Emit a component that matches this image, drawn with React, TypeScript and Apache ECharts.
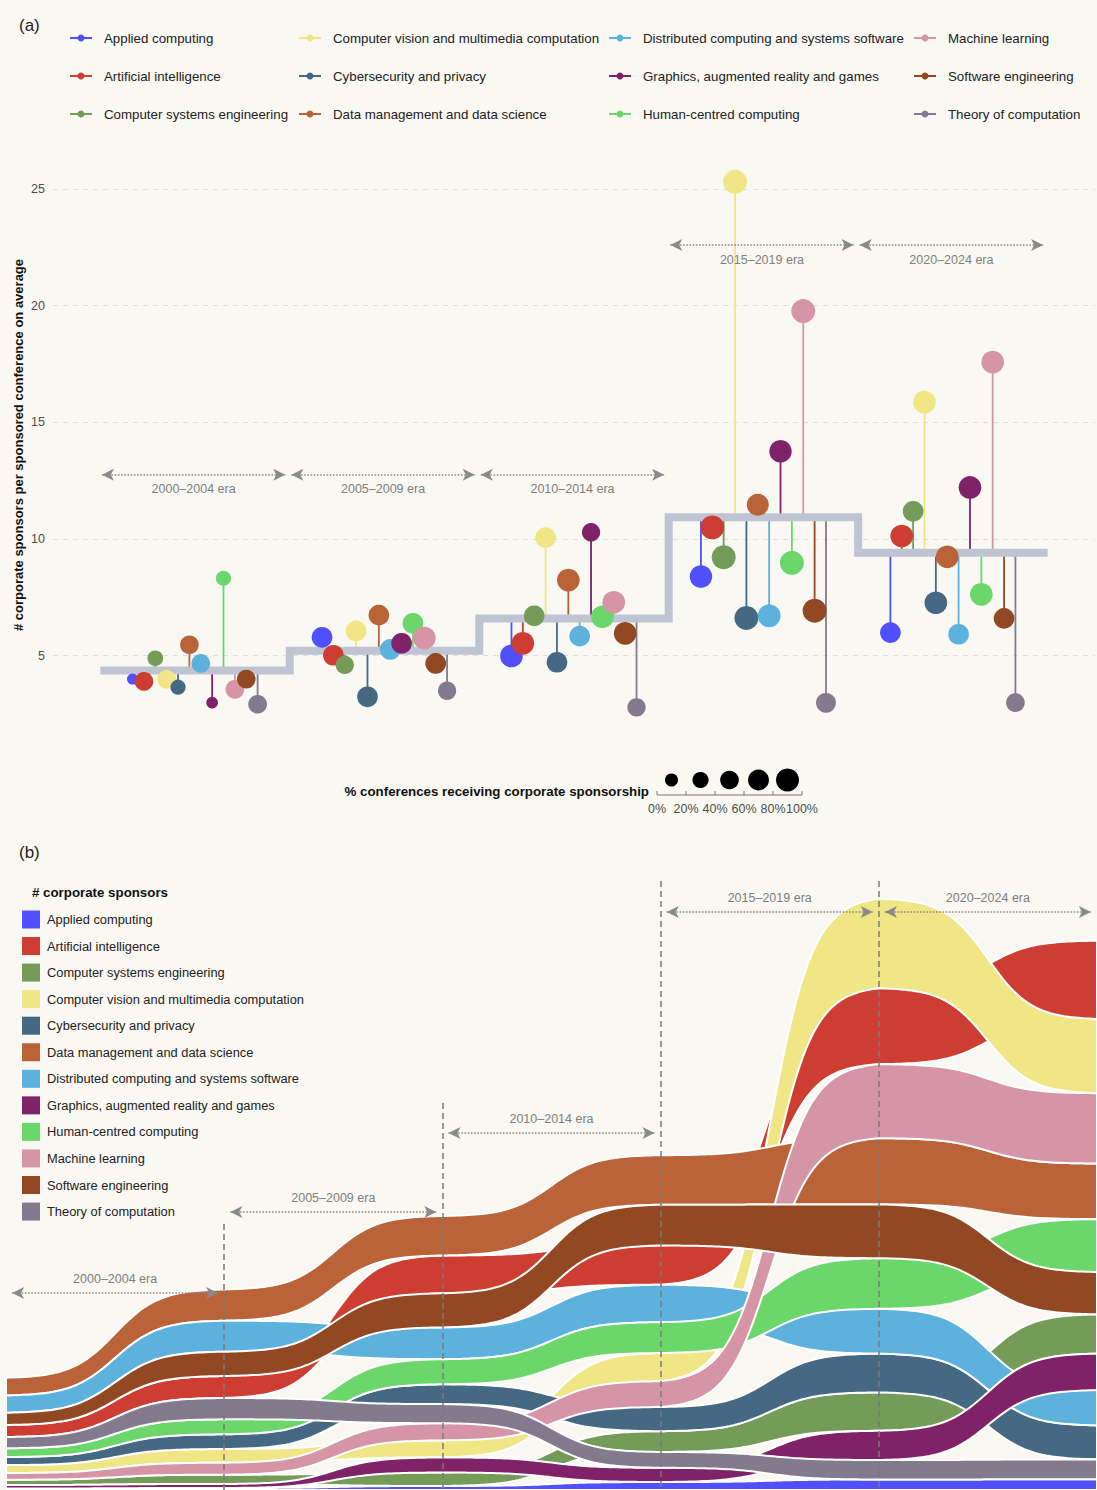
import React, { useEffect, useRef } from "react";
import * as echarts from "echarts";

// ---------- shared ----------
const categories = [
  "Applied computing",
  "Artificial intelligence",
  "Computer systems engineering",
  "Computer vision and multimedia computation",
  "Cybersecurity and privacy",
  "Data management and data science",
  "Distributed computing and systems software",
  "Graphics, augmented reality and games",
  "Human-centred computing",
  "Machine learning",
  "Software engineering",
  "Theory of computation",
];
const palette = [
  "#5050FF", "#CE3D32", "#749B58", "#F0E685", "#466983", "#BA6338",
  "#5DB1DD", "#802268", "#6BD76B", "#D595A7", "#924822", "#837B8D",
];
const eraLabels = ["2000–2004 era", "2005–2009 era", "2010–2014 era", "2015–2019 era", "2020–2024 era"];
const eraStarts = [2000, 2005, 2010, 2015, 2020];

// ---------- panel (a): average corporate sponsors per sponsored conference ----------
const eraAverage = [4.37, 5.21, 6.59, 10.93, 9.41];
const avg2000_2004 = [4.0, 3.9, 4.89, 3.99, 3.65, 5.47, 4.67, 2.99, 8.32, 3.56, 4.0, 2.92];
const avg2005_2009 = [5.79, 5.02, 4.61, 6.06, 3.24, 6.74, 5.27, 5.53, 6.39, 5.76, 4.67, 3.5];
const avg2010_2014 = [4.99, 5.53, 6.71, 10.06, 4.72, 8.24, 5.84, 10.29, 6.67, 7.29, 5.96, 2.79];
const avg2015_2019 = [8.39, 10.5, 9.22, 25.31, 6.62, 11.47, 6.71, 13.76, 8.98, 19.77, 6.93, 2.98];
const avg2020_2024 = [5.99, 10.13, 11.19, 15.87, 7.27, 9.24, 5.92, 12.21, 7.63, 17.58, 6.6, 2.99];

// % conferences receiving corporate sponsorship
const pct2000_2004 = [0, 50, 27, 50, 24, 50, 50, 3, 24, 50, 50, 50];
const pct2005_2009 = [68, 68, 47, 68, 68, 68, 68, 68, 68, 87, 68, 47];
const pct2010_2014 = [87, 87, 68, 68, 68, 87, 68, 47, 87, 87, 87, 47];
const pct2015_2019 = [85, 100, 100, 100, 100, 80, 89, 85, 100, 100, 100, 61];
const pct2020_2024 = [68, 87, 68, 87, 87, 87, 68, 87, 87, 87, 68, 50];

const sizeBreakLabels = ["0%", "20%", "40%", "60%", "80%", "100%"];
const sizeKeys = [10, 30, 50, 70, 90];
const yTicksA = [5, 10, 15, 20, 25];

// ---------- panel (b): # corporate sponsors (ranked stream) ----------
const knotYears = [2000, 2005, 2010, 2015, 2020, 2025];
const sponsors2000 = [1.5, 12.0, 5.3, 7.9, 8.1, 17.8, 17.2, 3.5, 8.7, 6.7, 12.3, 11.3];
const sponsors2005 = [2.0, 22.0, 9.3, 13.7, 14.7, 31.3, 31.0, 4.0, 15.0, 12.0, 24.3, 21.3];
const sponsors2010 = [4.0, 37.8, 13.5, 17.0, 19.8, 39.5, 31.8, 15.1, 25.1, 17.2, 34.1, 19.1];
const sponsors2015 = [8.0, 39.2, 20.8, 28.2, 24.2, 49.5, 37.5, 14.2, 30.8, 25.8, 40.8, 15.8];
const sponsors2020 = [10.5, 76.0, 38.4, 89.5, 38.8, 66.2, 44.8, 29.2, 50.6, 74.0, 53.8, 19.5];
const sponsors2025 = [10.8, 78.2, 39.3, 74.3, 34.0, 55.6, 35.3, 36.5, 52.9, 70.3, 42.3, 19.8];

const FONT = '"Liberation Sans", Arial, Helvetica, sans-serif';
const BG = "#F9F8F3";

function dotSize(pct: number) {
  return Math.sqrt(124 + 4.5 * pct);
}
function lollipopX(era: number, c: number) {
  return eraStarts[era] + 2.5 + (c - 5.5) * 0.3;
}
const L = (x: number) => 1 / (1 + Math.exp(-x));
function sigmoid(t: number) {
  const s = 5;
  return (L(s * (2 * t - 1)) - L(-s)) / (L(s) - L(-s));
}

export default function App() {
  const ref = useRef<HTMLDivElement>(null);

  useEffect(() => {
    if (!ref.current) return;
    const chart = echarts.init(ref.current, null, { renderer: "svg" });

    const avgByEra = [avg2000_2004, avg2005_2009, avg2010_2014, avg2015_2019, avg2020_2024];
    const pctByEra = [pct2000_2004, pct2005_2009, pct2010_2014, pct2015_2019, pct2020_2024];

    // stems
    const stemData: number[][] = [];
    avgByEra.forEach((arr, e) =>
      arr.forEach((v, c) => stemData.push([lollipopX(e, c), eraAverage[e], v, c]))
    );

    // step line
    const stepData = eraStarts.map((y, i) => [y, eraAverage[i]]);
    stepData.push([2025, eraAverage[eraAverage.length - 1]]);

    // dots per category
    const dotSeries = categories.map((name, c) => ({
      type: "scatter",
      name,
      xAxisIndex: 0,
      yAxisIndex: 0,
      z: 3,
      silent: true,
      symbol: "circle",
      symbolSize: (val: number[]) => dotSize(val[2]),
      itemStyle: { color: palette[c], opacity: 1 },
      data: avgByEra.map((arr, e) => [lollipopX(e, c), arr[c], pctByEra[e][c]]),
    }));

    // stream stacks
    const knotValues = [sponsors2000, sponsors2005, sponsors2010, sponsors2015, sponsors2020, sponsors2025];
    const stacks = knotValues.map((vals) => {
      const order = vals.map((_, i) => i).sort((a, b) => vals[a] - vals[b]);
      const lo: number[] = new Array(vals.length);
      const hi: number[] = new Array(vals.length);
      let acc = 0;
      for (const i of order) {
        lo[i] = acc;
        acc += vals[i];
        hi[i] = acc;
      }
      return { lo, hi };
    });

    const streamSeries = categories.map((name, c) => ({
      type: "custom",
      name: name + " (stream)",
      xAxisIndex: 1,
      yAxisIndex: 1,
      silent: true,
      clip: true,
      z: 2,
      data: [[2000, 0, c]],
      renderItem: (params: any, api: any) => {
        const ci = api.value(2);
        const top: number[][] = [];
        const bottom: number[][] = [];
        const N = 60;
        for (let k = 0; k < knotYears.length - 1; k++) {
          const x0 = knotYears[k], x1 = knotYears[k + 1];
          for (let j = 0; j <= N; j++) {
            if (k > 0 && j === 0) continue;
            const t = j / N;
            const f = sigmoid(t);
            const x = x0 + (x1 - x0) * t;
            const yl = stacks[k].lo[ci] + (stacks[k + 1].lo[ci] - stacks[k].lo[ci]) * f;
            const yh = stacks[k].hi[ci] + (stacks[k + 1].hi[ci] - stacks[k].hi[ci]) * f;
            top.push(api.coord([x, yh]));
            bottom.push(api.coord([x, yl]));
          }
        }
        const pts = top.concat(bottom.reverse());
        return {
          type: "polygon",
          shape: { points: pts },
          style: { fill: palette[ci], stroke: "#ffffff", lineWidth: 2 },
        };
      },
    }));

    const arrowLabel = (pos: string, dist: number) => ({
      show: true,
      position: pos,
      formatter: "{b}",
      color: "#7f7f7f",
      fontSize: 12.5,
      fontFamily: FONT,
      distance: dist,
    });
    const arrowStyle = { color: "#8a8a8a", type: "dotted", width: 1.6 };

    const aArrowY = [12.75, 12.75, 12.75, 22.6, 22.6];
    const aArrows = eraLabels.map((lab, e) => [
      { name: lab, coord: [eraStarts[e] + 0.04, aArrowY[e]] },
      { coord: [eraStarts[e] + 4.88, aArrowY[e]] },
    ]);

    const bArrowY = [197, 278, 357, 578, 578];
    const bArrows = eraLabels.map((lab, e) => [
      { name: lab, coord: [eraStarts[e] + 0.14, bArrowY[e]] },
      { coord: [eraStarts[e] + 4.86, bArrowY[e]] },
    ]);
    const bDashTops = [266, 387, 609, 609];
    const bDashes = [2005, 2010, 2015, 2020].map((yr, i) => [
      { coord: [yr, bDashTops[i]] },
      { coord: [yr, 0] },
    ]);

    // graphics: labels, legends
    const g: any[] = [];
    const txt = (x: number, y: number, text: string, opts: any = {}) => ({
      type: "text",
      x,
      y,
      silent: true,
      z: 50,
      rotation: opts.rotation || 0,
      style: {
        text,
        fill: opts.fill || "#222222",
        font: opts.font || `13.3px ${FONT}`,
        align: opts.align || "left",
        verticalAlign: "middle",
        textAlign: opts.align || "left",
        textVerticalAlign: "middle",
      },
    });

    g.push({ type: "rect", shape: { x: 0, y: 0, width: 1097, height: 1490 }, style: { fill: BG }, z: -10, silent: true });
    g.push(txt(19, 25, "(a)", { font: `17px ${FONT}` }));
    g.push(txt(19, 852, "(b)", { font: `17px ${FONT}` }));

    // legend (a)
    const legendCols = [[70, 104], [299, 333], [609, 643], [914, 948]];
    const legendRows = [38, 76, 114];
    categories.forEach((name, i) => {
      const col = Math.floor(i / 3), row = i % 3;
      const [ix, tx] = legendCols[col];
      const y = legendRows[row];
      g.push({ type: "line", silent: true, z: 50, shape: { x1: ix, y1: y, x2: ix + 22, y2: y }, style: { stroke: palette[i], lineWidth: 2 } });
      g.push({ type: "circle", silent: true, z: 50, shape: { cx: ix + 11, cy: y, r: 3.5 }, style: { fill: palette[i] } });
      g.push(txt(tx, y, name));
    });

    // y-axis title (a)
    g.push(txt(18, 445, "# corporate sponsors per sponsored conference on average", {
      font: `bold 13px ${FONT}`, align: "center", rotation: Math.PI / 2, fill: "#111",
    }));

    // size legend (a)
    g.push(txt(649, 791, "% conferences receiving corporate sponsorship", { font: `bold 13.3px ${FONT}`, align: "right", fill: "#111" }));
    const tick0 = 657, tickStep = 29;
    g.push({ type: "line", silent: true, z: 50, shape: { x1: tick0, y1: 795, x2: tick0 + 5 * tickStep, y2: 795 }, style: { stroke: "#777", lineWidth: 1 } });
    sizeBreakLabels.forEach((lab, k) => {
      const x = tick0 + k * tickStep;
      g.push({ type: "line", silent: true, z: 50, shape: { x1: x, y1: 791, x2: x, y2: 795 }, style: { stroke: "#777", lineWidth: 1 } });
      g.push(txt(x, 809, lab, { font: `12.5px ${FONT}`, align: "center", fill: "#4d4d4d" }));
    });
    sizeKeys.forEach((p) => {
      const cx = tick0 + (p / 20) * tickStep;
      g.push({ type: "circle", silent: true, z: 50, shape: { cx, cy: 780, r: dotSize(p) / 2 }, style: { fill: "#000" } });
    });

    // legend (b)
    g.push(txt(32, 892, "# corporate sponsors", { font: `bold 13.3px ${FONT}`, fill: "#111" }));
    categories.forEach((name, i) => {
      const y = 919.5 + i * 26.55;
      g.push({ type: "rect", silent: true, z: 50, shape: { x: 22, y: y - 9, width: 18, height: 18 }, style: { fill: palette[i] } });
      g.push(txt(47, y, name, { font: `12.85px ${FONT}` }));
    });

    const option: any = {
      animation: false,
      backgroundColor: BG,
      textStyle: { fontFamily: FONT },
      grid: [
        { left: 53, right: 2, top: 154, bottom: 1490 - 772.4 },
        { left: 6, width: 1095, top: 880, bottom: 0 },
      ],
      xAxis: [
        { gridIndex: 0, type: "value", min: 1998.75, max: 2026.25, show: false },
        { gridIndex: 1, type: "value", min: 2000, max: 2025, show: false },
      ],
      yAxis: [
        {
          gridIndex: 0,
          type: "value",
          min: 0,
          max: 26.5,
          interval: 5,
          axisLine: { show: false },
          axisTick: { show: false },
          axisLabel: {
            color: "#4d4d4d",
            fontSize: 12.5,
            margin: 8,
            formatter: (v: number) => (yTicksA.indexOf(v) >= 0 ? String(v) : ""),
          },
          splitLine: {
            show: true,
            showMinLine: false,
            showMaxLine: false,
            lineStyle: { color: "#DEDEDE", type: [5, 5], width: 1 },
          },
        },
        { gridIndex: 1, type: "value", min: 0, max: 610, show: false },
      ],
      graphic: g,
      series: [
        {
          type: "custom",
          name: "stems",
          xAxisIndex: 0,
          yAxisIndex: 0,
          z: 1,
          silent: true,
          encode: { x: 0, y: [1, 2] },
          data: stemData,
          renderItem: (params: any, api: any) => {
            const p1 = api.coord([api.value(0), api.value(1)]);
            const p2 = api.coord([api.value(0), api.value(2)]);
            return {
              type: "line",
              shape: { x1: p1[0], y1: p1[1], x2: p2[0], y2: p2[1] },
              style: { stroke: palette[api.value(3)], lineWidth: 1.8 },
            };
          },
        },
        {
          type: "line",
          name: "era average",
          xAxisIndex: 0,
          yAxisIndex: 0,
          step: "end",
          symbol: "none",
          silent: true,
          z: 2,
          data: stepData,
          lineStyle: { color: "#BFC4D3", width: 8, join: "miter", cap: "butt" },
          markLine: {
            silent: true,
            symbol: ["arrow", "arrow"],
            symbolSize: [9, 12],
            lineStyle: arrowStyle,
            itemStyle: { color: "#8a8a8a" },
            label: arrowLabel("insideMiddleBottom", 8),
            data: aArrows,
          },
        },
        ...dotSeries,
        ...streamSeries,
        {
          type: "line",
          name: "annotations b",
          xAxisIndex: 1,
          yAxisIndex: 1,
          data: [],
          z: 20,
          silent: true,
          markLine: {
            silent: true,
            symbol: ["arrow", "arrow"],
            symbolSize: [9, 12],
            lineStyle: arrowStyle,
            itemStyle: { color: "#8a8a8a" },
            label: arrowLabel("insideMiddleTop", 8),
            data: bArrows,
          },
        },
        {
          type: "line",
          name: "era boundaries b",
          xAxisIndex: 1,
          yAxisIndex: 1,
          data: [],
          z: 20,
          silent: true,
          markLine: {
            silent: true,
            symbol: ["none", "none"],
            lineStyle: { color: "#7a7a7a", type: [6, 4], width: 1.5 },
            label: { show: false },
            data: bDashes,
          },
        },
      ],
    };

    chart.setOption(option);
    return () => chart.dispose();
  }, []);

  return (
    <div
      ref={ref}
      style={{ position: "absolute", left: 0, top: 0, width: 1097, height: 1490 }}
    />
  );
}
